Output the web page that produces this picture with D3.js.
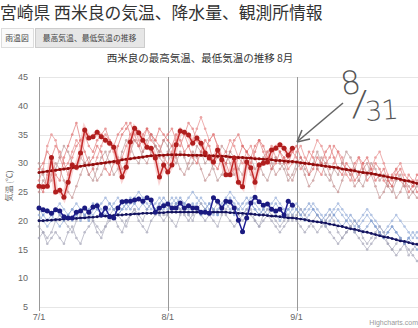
<!DOCTYPE html>
<html><head><meta charset="utf-8">
<script src="https://cdn.jsdelivr.net/npm/d3@7/dist/d3.min.js"></script>
<style>
html,body{margin:0;padding:0;background:#fff;overflow:hidden;}
svg{display:block;font-family:"Noto Sans CJK JP","Noto Sans",sans-serif;}
</style></head><body>
<svg id="c" width="418" height="328"></svg>
<script>
const pageTitle = "宮崎県 西米良の気温、降水量、観測所情報";
const tabs = ["雨温図", "最高気温、最低気温の推移"];
const chartTitle = "西米良の最高気温、最低気温の推移 8月";
const yAxisTitle = "気温 (℃)";
const yTicks = [5, 10, 15, 20, 25, 30, 35, 40, 45];
const xTickDays = [0, 31, 62];
const xTickLabels = ["7/1", "8/1", "9/1"];

// current year (7/1 .. 8/31)
const maxThisYear = [26.0,25.9,26.0,31.0,25.0,25.3,24.1,26.7,29.7,29.3,31.8,35.8,34.4,34.6,35.4,34.6,34.0,33.5,32.8,30.2,27.6,29.3,33.7,36.1,35.3,34.0,32.8,32.6,30.9,27.6,29.7,
 28.5,29.7,33.2,35.6,35.4,34.9,33.5,34.4,33.5,31.8,30.9,30.2,32.3,30.6,28.0,28.0,30.9,26.7,25.9,30.2,29.2,26.7,29.7,30.0,30.2,32.3,32.6,33.2,32.6,31.4,32.6];
const minThisYear = [22.2,21.9,21.7,21.3,21.9,21.7,20.7,20.5,20.5,21.5,21.7,22.2,21.5,22.4,22.6,21.0,22.2,20.7,20.5,22.2,23.3,23.4,23.4,23.6,23.8,23.4,24.0,23.6,21.5,22.2,22.6,
 22.9,22.2,22.2,23.1,22.2,22.6,22.2,22.2,21.5,21.5,21.3,24.0,23.4,22.2,23.4,23.3,22.2,20.1,18.1,20.5,23.1,24.1,23.3,22.7,22.9,22.0,21.7,22.0,21.0,23.4,22.7];

// normals (7/1 .. 9/30)
const maxNormal = [28.4,28.5,28.6,28.7,28.8,28.9,29.0,29.1,29.2,29.3,29.5,29.6,29.7,29.8,29.9,30.0,30.1,30.2,30.3,30.4,30.6,30.7,30.8,30.9,31.0,31.1,31.2,31.3,31.3,31.4,31.4,
 31.5,31.5,31.5,31.5,31.5,31.4,31.4,31.4,31.4,31.3,31.3,31.3,31.2,31.2,31.2,31.1,31.1,31.0,31.0,30.9,30.9,30.8,30.8,30.7,30.7,30.6,30.5,30.5,30.4,30.3,30.3,
 30.2,30.1,30.0,29.9,29.8,29.7,29.6,29.5,29.4,29.3,29.2,29.0,28.9,28.8,28.7,28.5,28.4,28.3,28.2,28.1,27.9,27.8,27.6,27.5,27.4,27.2,27.0,26.9,26.7,26.5];
const minNormal = [20.0,20.0,20.1,20.1,20.2,20.2,20.3,20.3,20.4,20.4,20.5,20.5,20.6,20.6,20.7,20.8,20.8,20.9,20.9,21.0,21.0,21.1,21.1,21.2,21.2,21.3,21.3,21.3,21.4,21.4,21.4,
 21.5,21.5,21.5,21.5,21.5,21.5,21.5,21.5,21.5,21.5,21.5,21.5,21.5,21.5,21.5,21.4,21.4,21.3,21.3,21.2,21.2,21.1,21.0,21.0,20.9,20.8,20.8,20.7,20.6,20.5,20.5,
 20.4,20.3,20.2,20.0,19.9,19.8,19.7,19.6,19.4,19.3,19.1,19.0,18.8,18.6,18.5,18.3,18.1,18.0,17.8,17.6,17.4,17.2,17.1,16.9,16.7,16.5,16.4,16.2,16.0,15.9];

// past years, daily max (7/1 .. 9/30)
const maxPast1 = [29,30,32,31,33,32,30,28,31,33,34,35,33,32,34,35,36,34,33,35,36,37,35,34,33,35,36,34,33,32,34,
 35,36,34,33,35,37,36,34,33,32,34,35,33,31,30,32,34,35,33,32,31,33,34,32,30,31,33,32,30,31,32,
 31,29,30,32,31,29,28,30,31,33,32,30,29,28,30,31,29,27,28,30,29,27,26,28,29,27,26,28,27,25];
const maxPast2 = [25,27,26,28,30,29,27,25,24,26,28,30,31,29,27,28,30,32,33,31,29,30,32,34,33,31,30,32,33,31,30,
 32,33,31,29,28,30,32,31,29,27,28,30,31,33,32,30,28,29,31,30,28,27,29,31,32,30,28,29,30,28,27,
 29,30,28,26,27,29,31,30,28,26,25,27,29,28,26,27,29,30,28,26,24,25,27,26,24,25,27,26,25,24];
const maxPast3 = [27,29,33,35,34,31,29,30,32,34,33,30,28,29,31,33,35,34,32,30,31,33,35,36,34,32,33,35,34,33,31,
 30,32,34,36,35,33,34,36,38,36,34,35,33,31,32,34,33,31,30,32,33,31,29,30,32,33,31,30,31,29,30,
 32,33,31,30,32,34,33,31,29,30,32,31,28,27,29,31,30,28,29,31,32,30,28,27,29,30,28,27,26,27];
const maxPast4 = [30,28,26,27,29,31,33,32,30,29,31,30,28,27,29,31,32,30,28,29,32,34,33,31,30,32,34,35,33,32,34,
 33,31,30,32,31,29,30,33,32,30,31,29,27,28,30,32,31,29,28,30,31,29,30,28,27,29,31,30,29,27,28,
 30,31,29,28,30,32,30,28,27,29,28,30,32,31,29,27,26,28,30,29,27,28,26,25,27,28,26,24,25,26];
const maxPast5 = [26,25,28,30,28,27,31,33,35,37,34,32,30,31,33,32,29,28,30,33,35,36,37,35,33,34,36,35,34,36,35,
 34,33,35,34,32,33,31,30,32,34,33,30,29,31,30,28,29,31,33,32,30,32,34,33,31,29,30,32,31,30,32,
 33,31,30,28,29,31,30,32,33,31,29,28,30,29,27,28,30,31,29,27,28,29,27,26,28,29,27,25,26,28];

// past years, daily min (7/1 .. 9/30)
const minPast1 = [20,21,22,21,20,19,20,21,22,23,22,21,20,21,22,23,24,23,22,21,22,23,24,23,22,23,24,23,22,21,22,
 23,24,23,22,23,24,25,24,23,22,23,22,21,22,23,24,23,22,21,22,23,22,21,22,23,22,21,20,21,22,21,
 22,21,20,21,22,21,20,19,20,21,22,21,20,19,18,19,20,21,20,19,18,17,18,19,18,17,16,17,18,17];
const minPast2 = [17,18,16,17,18,17,16,18,19,17,16,18,19,20,18,17,19,20,21,19,18,20,21,22,20,19,18,20,21,22,21,
 21,22,23,22,21,20,21,22,21,20,21,22,23,22,21,20,19,20,21,22,21,20,19,20,21,20,19,18,19,20,21,
 20,19,18,19,20,21,20,19,18,17,16,17,18,19,18,17,16,15,16,17,18,17,16,15,14,15,16,15,14,13];
const minPast3 = [21,20,19,20,22,23,22,21,20,21,22,21,20,22,23,22,21,22,23,24,23,22,23,24,25,24,23,22,23,24,23,
 22,23,24,23,22,21,22,23,24,23,22,21,22,23,24,25,24,23,22,23,24,23,22,21,22,23,24,23,22,21,22,
 23,22,21,22,23,22,21,20,21,22,23,22,21,20,19,20,21,22,21,20,19,18,19,20,21,20,19,18,17,18];
const minPast4 = [19,18,17,18,20,21,20,19,18,20,21,22,21,20,19,18,19,21,22,21,20,19,21,22,21,20,22,23,22,21,20,
 21,20,19,21,22,21,20,22,23,22,21,20,19,21,22,23,22,21,20,21,22,20,19,21,22,21,20,19,20,21,20,
 21,22,21,20,19,18,19,20,21,20,18,17,18,19,20,19,17,16,17,18,19,18,16,15,16,17,16,14,15,16];
const minPast5 = [22,21,20,21,22,21,20,21,22,21,20,21,22,23,22,21,22,23,22,21,22,23,22,23,24,23,22,23,22,23,24,
 23,22,23,24,23,22,23,22,21,22,23,22,21,22,23,22,21,22,23,24,23,22,21,22,21,22,23,22,21,22,23,
 22,21,22,23,22,21,20,21,22,21,20,19,20,21,20,19,18,19,20,19,18,17,18,19,18,17,16,17,16,15];

const svg = d3.select("#c");

// page header
svg.append("text").attr("x", 0).attr("y", 19).attr("font-size", 16.8).attr("fill", "#333").text(pageTitle);
const tabBoxes = [[1, 33, "#fafafa", "#ddd"], [35, 144, "#e6e6e6", "#ccc"]];
tabs.forEach((t, i) => {
  const [x0, x1, fill, stroke] = tabBoxes[i];
  svg.append("rect").attr("x", x0 + 0.5).attr("y", 28.5).attr("width", x1 - x0).attr("height", 19)
    .attr("fill", fill).attr("stroke", stroke);
  svg.append("text").attr("x", (x0 + x1) / 2).attr("y", 41).attr("text-anchor", "middle")
    .attr("font-size", 7.8).attr("fill", "#444").text(t);
});

// chart title
svg.append("text").attr("x", 200).attr("y", 62).attr("text-anchor", "middle")
  .attr("font-size", 10.5).attr("fill", "#333").text(chartTitle);

const x = d3.scaleLinear().domain([0, 91]).range([39, 417]);
const y = d3.scaleLinear().domain([5, 45]).range([307, 77]);

// grid
const g = svg.append("g");
g.selectAll("line.h").data(yTicks).join("line")
  .attr("x1", 39).attr("x2", 418).attr("y1", d => Math.round(y(d)) + 0.5).attr("y2", d => Math.round(y(d)) + 0.5)
  .attr("stroke", "#e6e6e6");
g.selectAll("line.v").data(xTickDays).join("line")
  .attr("x1", d => Math.round(x(d)) + 0.5).attr("x2", d => Math.round(x(d)) + 0.5)
  .attr("y1", 77).attr("y2", 311).attr("stroke", "#999");

// labels
g.selectAll("text.yl").data(yTicks).join("text")
  .attr("x", 28).attr("y", d => y(d) + 3).attr("text-anchor", "end")
  .attr("font-size", 9).attr("fill", "#666").attr("font-family", "Liberation Sans, sans-serif").text(d => d);
g.selectAll("text.xl").data(xTickDays).join("text")
  .attr("x", d => x(d)).attr("y", 320).attr("text-anchor", "middle")
  .attr("font-size", 9).attr("fill", "#666").attr("font-family", "Liberation Sans, sans-serif")
  .text((d, i) => xTickLabels[i]);
svg.append("text").attr("transform", "translate(12,186) rotate(-90)").attr("text-anchor", "middle")
  .attr("font-size", 8).attr("fill", "#666").text(yAxisTitle);

const line = d3.line().x((d, i) => x(i)).y(d => y(d));

function drawSeries(data, color, width, r, markColor, opacity) {
  const s = svg.append("g").attr("opacity", opacity);
  s.append("path").attr("d", line(data)).attr("fill", "none").attr("stroke", color).attr("stroke-width", width);
  s.selectAll("circle").data(data).join("circle")
    .attr("cx", (d, i) => x(i)).attr("cy", d => y(d)).attr("r", r).attr("fill", markColor);
}

// faint past years
const pastMin = [minPast1, minPast2, minPast3, minPast4, minPast5];
const pastMinColors = ["#8fa9d6", "#a0a0b4", "#93acd8", "#a6a6b8", "#7f9ccf"];
pastMin.forEach((d, i) => drawSeries(d, pastMinColors[i], 0.9, 1.3, pastMinColors[i], 0.7));
const pastMax = [maxPast1, maxPast2, maxPast3, maxPast4, maxPast5];
const pastMaxColors = ["#e07070", "#c08a8a", "#e58080", "#b89090", "#dd6666"];
pastMax.forEach((d, i) => drawSeries(d, pastMaxColors[i], 0.9, 1.3, pastMaxColors[i], 0.7));

// halo under current max
svg.append("path").attr("d", line(maxThisYear)).attr("fill", "none")
  .attr("stroke", "#f4a0a0").attr("stroke-width", 5).attr("opacity", 0.45);

// normals
drawSeries(minNormal, "#1a1a6e", 1.6, 1.4, "#12125a", 1);
drawSeries(maxNormal, "#a81818", 2, 1.5, "#8c0c0c", 1);

// current year
drawSeries(minThisYear, "#1f1f94", 1.5, 2.5, "#1a1a80", 1);
drawSeries(maxThisYear, "#c22a2a", 1.5, 2.5, "#b01e1e", 1);

// handwritten annotation
const ann = svg.append("g").attr("fill", "#555").attr("font-family", "DejaVu Sans, sans-serif");
ann.append("text").attr("x", 340).attr("y", 94).attr("font-size", 32).attr("font-weight", 300)
  .attr("transform", "rotate(-8,350,80)").text("8");
ann.append("text").attr("x", 354).attr("y", 116).attr("font-size", 36).attr("font-weight", 300)
  .attr("transform", "rotate(6,362,100)").text("/");
ann.append("text").attr("x", 365).attr("y", 120).attr("font-size", 27).attr("font-weight", 300)
  .attr("transform", "rotate(-4,378,108)").attr("letter-spacing", -1).text("31");
svg.append("line").attr("x1", 343).attr("y1", 103).attr("x2", 298).attr("y2", 141)
  .attr("stroke", "#666").attr("stroke-width", 1.6);
svg.append("path").attr("d", "M297,142 L302,130 M297,142 L310,139").attr("stroke", "#666")
  .attr("stroke-width", 1.6).attr("fill", "none");

// credit
svg.append("text").attr("x", 418).attr("y", 325).attr("text-anchor", "end").attr("font-size", 7)
  .attr("fill", "#999").attr("font-family", "Liberation Sans, sans-serif").text("Highcharts.com");
</script>
</body></html>
